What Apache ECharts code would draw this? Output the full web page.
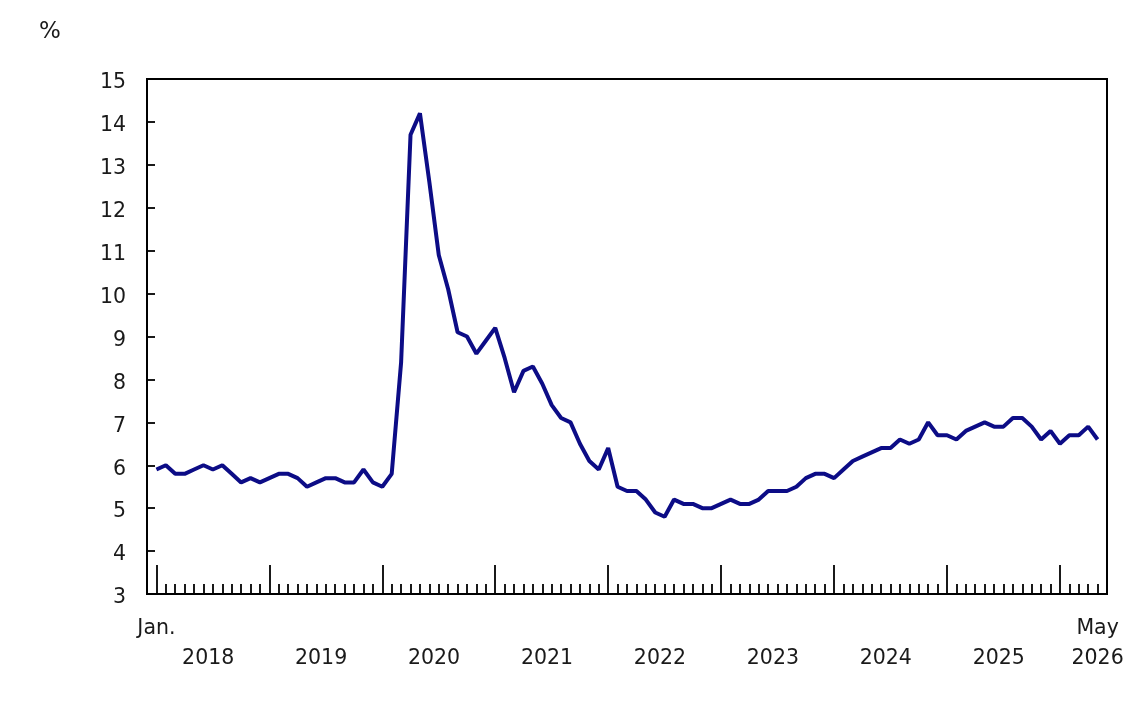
<!DOCTYPE html>
<html>
<head>
<meta charset="utf-8">
<style>
  html, body { margin: 0; padding: 0; background: #fff; }
  #chart { width: 1140px; height: 701px; }
</style>
<script src="https://cdn.jsdelivr.net/npm/echarts@6/dist/echarts.min.js"></script>
</head>
<body>
<div id="chart"></div>
<script>
// monthly rate, %, Jan. 2018 to May 2026
const rates2018 = [5.9, 6.0, 5.8, 5.8, 5.9, 6.0, 5.9, 6.0, 5.8, 5.6, 5.7, 5.6]
const rates2019 = [5.7, 5.8, 5.8, 5.7, 5.5, 5.6, 5.7, 5.7, 5.6, 5.6, 5.9, 5.6]
const rates2020 = [5.5, 5.8, 8.4, 13.7, 14.2, 12.6, 10.9, 10.1, 9.1, 9.0, 8.6, 8.9]
const rates2021 = [9.2, 8.5, 7.7, 8.2, 8.3, 7.9, 7.4, 7.1, 7.0, 6.5, 6.1, 5.9]
const rates2022 = [6.4, 5.5, 5.4, 5.4, 5.2, 4.9, 4.8, 5.2, 5.1, 5.1, 5.0, 5.0]
const rates2023 = [5.1, 5.2, 5.1, 5.1, 5.2, 5.4, 5.4, 5.4, 5.5, 5.7, 5.8, 5.8]
const rates2024 = [5.7, 5.9, 6.1, 6.2, 6.3, 6.4, 6.4, 6.6, 6.5, 6.6, 7.0, 6.7]
const rates2025 = [6.7, 6.6, 6.8, 6.9, 7.0, 6.9, 6.9, 7.1, 7.1, 6.9, 6.6, 6.8]
const rates2026 = [6.5, 6.7, 6.7, 6.9, 6.6]

const yearLabels = ['2018', '2019', '2020', '2021', '2022', '2023', '2024', '2025', '2026']
const firstMonthLabel = 'Jan.'
const lastMonthLabel = 'May'

const rates = [].concat(rates2018, rates2019, rates2020, rates2021, rates2022,
  rates2023, rates2024, rates2025, rates2026)
const lastIdx = rates.length - 1

// month index ticks: january = major, others = minor
const majorTicks = []
const minorTicks = []
rates.forEach((v, i) => {
  if (i % 12 === 0) majorTicks.push(i)
  else minorTicks.push(i)
})
// year label sits mid-year, the last (partial) one under its last month
const yearPos = yearLabels.map((y, k) => (k < yearLabels.length - 1 ? k * 12 + 5.5 : lastIdx))

const FONT = 'DejaVu Sans'
const TXT = '#1a1a1a'
const FS = 20.5

const chart = echarts.init(document.getElementById('chart'))

const baseX = {
  type: 'value',
  min: -1,
  max: lastIdx + 1,
  position: 'bottom',
  splitLine: { show: false },
  axisLine: { show: false }
}

const opt = {
  animation: false,
  grid: {
    left: 147,
    right: 33,
    top: 79,
    bottom: 107,
    show: true,
    borderColor: '#000',
    borderWidth: 2,
    containLabel: false
  },
  graphic: [
    {
      type: 'text',
      left: 39,
      top: 21,
      style: { text: '%', fontSize: 23, fontFamily: FONT, fill: TXT }
    }
  ],
  xAxis: [
    Object.assign({}, baseX, {
      axisTick: { show: true, inside: true, length: 10, customValues: minorTicks, lineStyle: { color: '#000', width: 1.8 } },
      axisLabel: { show: false }
    }),
    Object.assign({}, baseX, {
      axisTick: { show: true, inside: true, length: 29, customValues: majorTicks, lineStyle: { color: '#000', width: 1.8 } },
      axisLabel: {
        show: true,
        customValues: [0, lastIdx],
        margin: 24,
        fontSize: FS,
        fontFamily: FONT,
        color: TXT,
        formatter: v => (v === 0 ? firstMonthLabel : lastMonthLabel)
      }
    }),
    Object.assign({}, baseX, {
      axisTick: { show: false },
      axisLabel: {
        show: true,
        customValues: yearPos,
        margin: 54,
        fontSize: FS,
        fontFamily: FONT,
        color: TXT,
        formatter: v => yearLabels[yearPos.indexOf(v)]
      }
    })
  ],
  yAxis: {
    type: 'value',
    min: 3,
    max: 15,
    interval: 1,
    splitLine: { show: false },
    axisLine: { show: true, onZero: false, lineStyle: { color: '#000', width: 2 } },
    axisTick: { show: true, inside: true, length: 8, lineStyle: { color: '#000', width: 1.8 } },
    axisLabel: {
      margin: 21,
      formatter: v => '{n|' + v + '}',
      rich: {
        n: { fontSize: FS, fontFamily: FONT, color: TXT, padding: [8, 0, 0, 0] }
      }
    }
  },
  series: [
    {
      type: 'line',
      xAxisIndex: 0,
      data: rates.map((v, i) => [i, v]),
      showSymbol: false,
      lineStyle: { color: '#0c0c86', width: 4 },
      z: 5
    }
  ]
}

chart.setOption(opt)
</script>
</body>
</html>
